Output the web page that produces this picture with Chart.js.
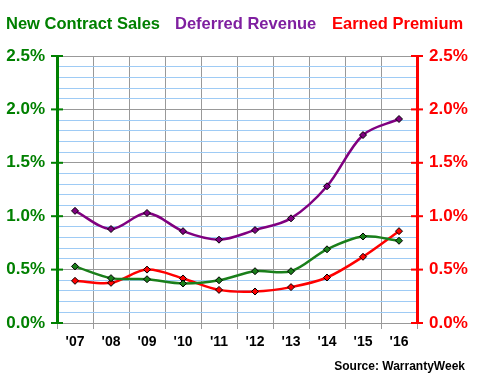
<!DOCTYPE html>
<html><head><meta charset="utf-8">
<script src="https://cdn.jsdelivr.net/npm/chart.js@4"></script>
<style>html,body{margin:0;padding:0;background:#fff}#wrap{width:480px;height:390px}</style>
</head><body><div id="wrap"><canvas id="c"></canvas></div>
<script>
const categories = ["'07","'08","'09","'10","'11","'12","'13","'14","'15","'16"];
const newContractSales = [0.53,0.42,0.41,0.37,0.40,0.485,0.485,0.69,0.81,0.77];
const deferredRevenue = [1.05,0.88,1.03,0.86,0.78,0.87,0.98,1.28,1.76,1.91];
const earnedPremium = [0.395,0.376,0.50,0.417,0.31,0.295,0.336,0.426,0.62,0.86];
const yTicks = [0,0.5,1.0,1.5,2.0,2.5];
const seriesNames = ["New Contract Sales","Deferred Revenue","Earned Premium"];
const seriesColors = ["#008000","#7F1FA0","#FF0000"];
const lineColors = ["#1a7f1a","#800080","#FF0000"];
const sourceText = "Source: WarrantyWeek";
const FONT = "'Liberation Sans', Arial, sans-serif";

const isMajor = v => Math.abs(v*2 - Math.round(v*2)) < 1e-6;

const extras = {
  id:'extras',
  afterDraw(chart){
    const ctx = chart.ctx, a = chart.chartArea;
    ctx.save();
    ctx.lineWidth = 2;
    yTicks.forEach(v=>{
      const y = chart.scales.y.getPixelForValue(v);
      ctx.strokeStyle = '#008000';
      ctx.beginPath(); ctx.moveTo(a.left-6,y); ctx.lineTo(a.left+6,y); ctx.stroke();
      ctx.strokeStyle = '#FF0000';
      ctx.beginPath(); ctx.moveTo(a.right-6,y); ctx.lineTo(a.right+6,y); ctx.stroke();
    });
    ctx.font = "bold 16.5px " + FONT;
    ctx.textBaseline = 'middle';
    ctx.textAlign = 'left';
    const xs = [6,175,332];
    seriesNames.forEach((n,i)=>{ ctx.fillStyle = seriesColors[i]; ctx.fillText(n, xs[i], 24); });
    ctx.font = "bold 12px " + FONT;
    ctx.fillStyle = '#000';
    ctx.textAlign = 'right';
    ctx.fillText(sourceText, 465, 367);
    ctx.restore();
  }
};

function ds(i, data){
  return {
    label: seriesNames[i], data, yAxisID:'y',
    borderColor: lineColors[i], backgroundColor: lineColors[i],
    borderWidth: 2.5, tension: 0.33, fill:false,
    pointStyle:'rectRot', pointRadius:3.5, pointBorderColor:'#000', pointBorderWidth:1,
    pointBackgroundColor: lineColors[i]
  };
}

new Chart(document.getElementById('c'), {
  type:'line',
  data:{ labels: categories, datasets:[ds(0,newContractSales), ds(1,deferredRevenue), ds(2,earnedPremium)] },
  options:{
    responsive:true, maintainAspectRatio:false, animation:false,
    layout:{padding:{left:0,right:0,top:56,bottom:27}},
    plugins:{ legend:{display:false}, title:{display:false}, tooltip:{enabled:false} },
    scales:{
      x:{
        offset:true,
        grid:{color:'#999', lineWidth:1, offset:true, tickLength:6, tickColor:'#999'},
        border:{color:'#999', width:1},
        ticks:{color:'#000', font:{family:FONT, size:14, weight:'bold'}, padding:5, maxRotation:0},
        afterFit(s){ s.height = 40; }
      },
      y:{
        position:'left', min:0, max:2.5,
        afterBuildTicks(s){ const t=[]; for(let i=0;i<=25;i++) t.push({value:i/10}); s.ticks=t; },
        grid:{
          color: c => isMajor(c.tick.value) ? '#999' : '#9ECBF5',
          lineWidth:1, tickLength:6,
          tickColor: c => isMajor(c.tick.value) ? '#008000' : 'rgba(0,0,0,0)'
        },
        border:{color:'#008000', width:3},
        ticks:{
          color:'#008000', font:{family:FONT, size:17, weight:'bold'}, padding:6, autoSkip:false,
          callback: v => isMajor(v) ? v.toFixed(1)+'%' : ''
        },
        afterFit(s){ s.width = 57; }
      },
      y2:{
        position:'right', min:0, max:2.5,
        afterBuildTicks(s){ s.ticks = yTicks.map(v=>({value:v})); },
        grid:{drawOnChartArea:false, tickLength:6, tickColor:'#FF0000'},
        border:{color:'#FF0000', width:3},
        ticks:{color:'#FF0000', font:{family:FONT, size:17, weight:'bold'}, padding:6, autoSkip:false,
          callback: v => v.toFixed(1)+'%'},
        afterFit(s){ s.width = 63; }
      }
    }
  },
  plugins:[extras]
});
</script></body></html>
